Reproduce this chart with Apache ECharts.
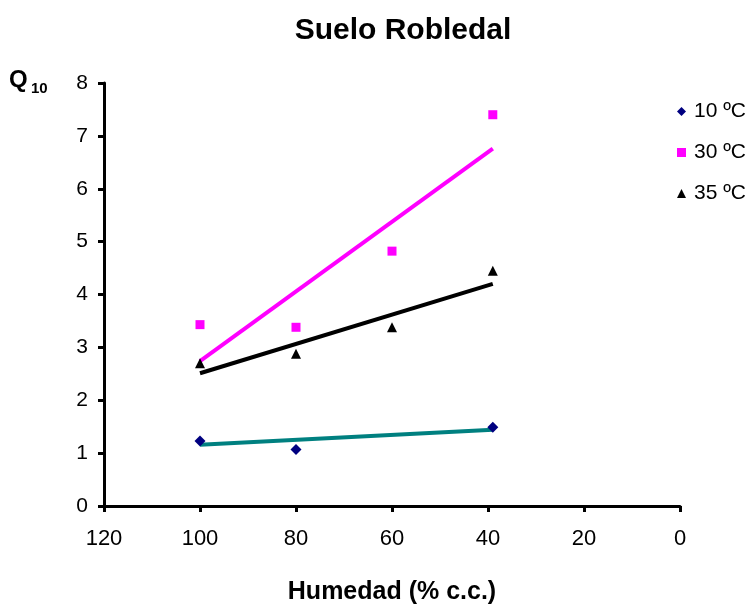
<!DOCTYPE html>
<html><head><meta charset="utf-8">
<script src="https://cdn.jsdelivr.net/npm/echarts@6/dist/echarts.min.js"></script>
<style>html,body{margin:0;padding:0;background:#fff}#c{width:752px;height:610px}</style>
</head><body><div id="c"></div>
<script>
const xTicks = [120, 100, 80, 60, 40, 20, 0];
const humedad10 = [100, 80, 39];
const q10_10 = [1.23, 1.07, 1.49];
const humedad = [100, 80, 60, 39];
const q10_30 = [3.43, 3.38, 4.82, 7.40];
const q10_35 = [2.70, 2.88, 3.38, 4.45];
// trend lines (endpoints)
const trendX = [100, 39];
const trend10 = [1.16, 1.44];
const trend30 = [2.74, 6.76];
const trend35 = [2.51, 4.20];
const seriesNames = ['10 ºC', '30 ºC', '35 ºC'];

const pairs = (xs, ys) => xs.map((x, i) => [x, ys[i]]);
const diamond = 'path://M0,-1L1,0L0,1L-1,0Z';
const tri = 'path://M0,-1L1,1L-1,1Z';
const font = 'Liberation Sans';

const chart = echarts.init(document.getElementById('c'), null, {renderer: 'canvas'});
chart.setOption({
  animation: false,
  textStyle: {fontFamily: font},
  title: {
    text: 'Suelo Robledal', left: 403, top: 16, textAlign: 'center', padding: 0,
    textStyle: {fontFamily: font, fontWeight: 'bold', fontSize: 30, color: '#000'}
  },
  graphic: [
    {type: 'text', left: 9, top: 68, style: {text: 'Q', font: 'bold 24px Liberation Sans', fill: '#000'}},
    {type: 'text', left: 31, top: 81, style: {text: '10', font: 'bold 15px Liberation Sans', fill: '#000'}}
  ],
  legend: {
    data: seriesNames.map((n, i) => ({name: n, icon: [diamond, 'rect', tri][i]})),
    orient: 'vertical', left: 677, top: 101, itemGap: 20, padding: 0,
    itemWidth: 9, itemHeight: 9,
    textStyle: {fontFamily: font, fontSize: 21, color: '#000', padding: [0, 0, 0, 3]}
  },
  grid: {left: 104, right: 72, top: 83, bottom: 100},
  xAxis: {
    type: 'value', min: 0, max: 120, interval: 20, inverse: true,
    name: 'Humedad (% c.c.)', nameLocation: 'middle', nameGap: 74,
    nameTextStyle: {fontFamily: font, fontWeight: 'bold', fontSize: 25, color: '#000'},
    axisLine: {lineStyle: {color: '#000', width: 3}},
    axisTick: {show: true, length: 6, lineStyle: {color: '#000', width: 3}},
    axisLabel: {fontFamily: font, fontSize: 22, color: '#000', margin: 22,
      formatter: v => xTicks.includes(v) ? String(v) : ''},
    splitLine: {show: false}
  },
  yAxis: {
    type: 'value', min: 0, max: 8, interval: 1, position: 'left',
    axisLine: {show: true, onZero: false, lineStyle: {color: '#000', width: 3}},
    axisTick: {show: true, length: 6, lineStyle: {color: '#000', width: 3}},
    axisLabel: {fontFamily: font, fontSize: 21, color: '#000', margin: 16},
    splitLine: {show: false}
  },
  series: [
    {name: 'trend10', type: 'line', data: pairs(trendX, trend10), showSymbol: false, lineStyle: {color: '#008080', width: 4}, itemStyle: {color: '#008080'}, z: 1},
    {name: 'trend30', type: 'line', data: pairs(trendX, trend30), showSymbol: false, lineStyle: {color: '#FF00FF', width: 4}, itemStyle: {color: '#FF00FF'}, z: 1},
    {name: 'trend35', type: 'line', data: pairs(trendX, trend35), showSymbol: false, lineStyle: {color: '#000', width: 4}, itemStyle: {color: '#000'}, z: 1},
    {name: seriesNames[0], type: 'scatter', data: pairs(humedad10, q10_10), symbol: diamond, symbolSize: 11, itemStyle: {color: '#000080', opacity: 1}, z: 3},
    {name: seriesNames[1], type: 'scatter', data: pairs(humedad, q10_30), symbol: 'rect', symbolSize: 9, itemStyle: {color: '#FF00FF', opacity: 1}, z: 3},
    {name: seriesNames[2], type: 'scatter', data: pairs(humedad, q10_35), symbol: tri, symbolSize: 10, itemStyle: {color: '#000', opacity: 1}, z: 3}
  ]
});
</script></body></html>
